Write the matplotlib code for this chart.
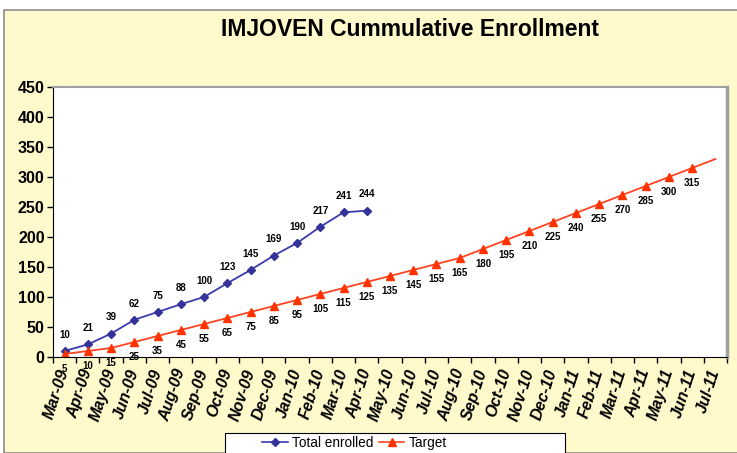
import matplotlib
matplotlib.use('Agg')
import matplotlib.pyplot as plt
from matplotlib.patches import Rectangle
from matplotlib.lines import Line2D

plt.rcParams['font.family'] = ['Liberation Sans', 'DejaVu Sans']

months = ['Mar-09', 'Apr-09', 'May-09', 'Jun-09', 'Jul-09', 'Aug-09', 'Sep-09',
          'Oct-09', 'Nov-09', 'Dec-09', 'Jan-10', 'Feb-10', 'Mar-10', 'Apr-10',
          'May-10', 'Jun-10', 'Jul-10', 'Aug-10', 'Sep-10', 'Oct-10', 'Nov-10',
          'Dec-10', 'Jan-11', 'Feb-11', 'Mar-11', 'Apr-11', 'May-11', 'Jun-11',
          'Jul-11']
enrolled = [10, 21, 39, 62, 75, 88, 100, 123, 145, 169, 190, 217, 241, 244]
target = [5, 10, 15, 25, 35, 45, 55, 65, 75, 85, 95, 105, 115, 125, 135, 145,
          155, 165, 180, 195, 210, 225, 240, 255, 270, 285, 300, 315, 330]

bg = '#FFF9CC'
blue = '#333399'
red = '#FF3300'

fig = plt.figure(figsize=(7.37, 4.53), dpi=100)
fig.patch.set_facecolor('white')
# yellow chart area with grey outline
fig.patches.append(Rectangle((4 / 737, 0), 1, 1 - 10 / 453, transform=fig.transFigure,
                             facecolor=bg, edgecolor='#8c8c8c', linewidth=1.2, zorder=-5))

ax = fig.add_axes([53 / 737, 1 - 357 / 453, 674 / 737, 270 / 453])
ax.set_zorder(1)
ax.set_facecolor('white')

x_all = list(range(len(months)))
ax.plot(x_all[:len(enrolled)], enrolled, color='#3b3bb0', lw=1.3, marker='D', ms=4.5,
        markerfacecolor=blue, markeredgecolor=blue, label='Total enrolled')
ax.plot(x_all, target, color='#ff4422', lw=1.3, marker='^', ms=6,
        markevery=list(range(len(target) - 1)),
        markerfacecolor=red, markeredgecolor=red, label='Target')

for i, v in enumerate(enrolled):
    ax.annotate(str(v), (i, v), xytext=(0, 8), textcoords='offset points',
                ha='center', va='bottom', fontsize=7, fontweight='bold')
for i, v in enumerate(target[:-1]):
    ax.annotate(str(v), (i, v), xytext=(0, -7), textcoords='offset points',
                ha='center', va='top', fontsize=7, fontweight='bold')

ax.set_xlim(-0.5, len(months) - 0.5)
ax.set_ylim(0, 450)
ax.set_yticks(range(0, 451, 50))
ax.tick_params(axis='y', labelsize=11.5, length=4, width=1, direction='out', pad=2)
for t in ax.get_yticklabels():
    t.set_fontweight('bold')

ax.set_xticks(x_all)
ax.set_xticklabels(months, rotation=72, ha='right', va='center', fontsize=11.5,
                   fontweight='bold', fontstyle='italic', rotation_mode='anchor')
ax.tick_params(axis='x', which='major', length=0, pad=9)
ax.set_xticks([i - 0.5 for i in range(len(months) + 1)], minor=True)
ax.tick_params(axis='x', which='minor', length=4, width=1, direction='out')

ax.spines['left'].set_color('black')
ax.spines['bottom'].set_color('black')
ax.spines['top'].set_color('#a0a0a0')
ax.spines['right'].set_color('#a0a0a0')
ax.spines['top'].set_linewidth(1.5)
ax.spines['right'].set_linewidth(2.5)

fig.text(410 / 737, 1 - 30 / 453, 'IMJOVEN Cummulative Enrollment', ha='center',
         va='center', fontsize=16.5, fontweight='bold')

# legend box at the bottom
fig.patches.append(Rectangle((225 / 737, -0.05), 340 / 737, 0.05 + 20 / 453,
                             transform=fig.transFigure, facecolor='white',
                             edgecolor='black', linewidth=0.8, zorder=1))
handles = [Line2D([], [], color='#3b3bb0', marker='D', ms=4, lw=1.2,
                  markerfacecolor=blue, markeredgecolor=blue),
           Line2D([], [], color='#ff4422', marker='^', ms=5.5, lw=1.2,
                  markerfacecolor=red, markeredgecolor=red)]
leg = fig.legend(handles, ['Total enrolled', 'Target'], loc='center left',
                 bbox_to_anchor=(255 / 737, 1 - 443 / 453), ncol=2, frameon=False,
                 fontsize=9.8, handlelength=1.9, handletextpad=0.3,
                 columnspacing=0.4, borderpad=0)
leg.set_zorder(2)

fig.savefig('out.png', dpi=100, facecolor=fig.get_facecolor())
